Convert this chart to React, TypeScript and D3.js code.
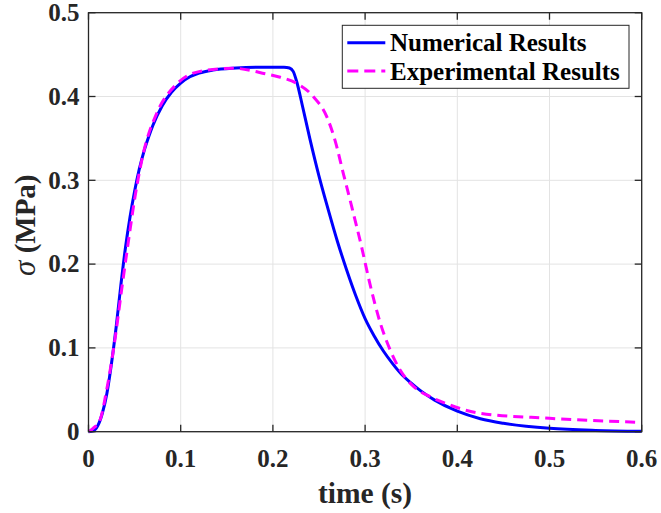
import React, { useEffect } from "react";
import * as d3 from "d3";

// values
const numTime = [0, 0.005, 0.01, 0.015, 0.02, 0.025, 0.03, 0.035, 0.04, 0.045, 0.05, 0.055, 0.06, 0.065, 0.07, 0.08, 0.09, 0.1, 0.11, 0.12, 0.135, 0.16, 0.19, 0.212, 0.218, 0.222, 0.226, 0.232, 0.24, 0.25, 0.26, 0.27, 0.28, 0.29, 0.3, 0.31, 0.32, 0.33, 0.34, 0.35, 0.36, 0.375, 0.4, 0.425, 0.45, 0.5, 0.55, 0.6];
const numStress = [0, 0.001, 0.007, 0.022, 0.046, 0.082, 0.125, 0.174, 0.219, 0.256, 0.287, 0.313, 0.334, 0.351, 0.366, 0.389, 0.405, 0.416, 0.4236, 0.428, 0.4316, 0.434, 0.435, 0.435, 0.434, 0.43, 0.417, 0.389, 0.35, 0.305, 0.265, 0.227, 0.193, 0.162, 0.135, 0.114, 0.096, 0.081, 0.068, 0.058, 0.049, 0.038, 0.0245, 0.0155, 0.01, 0.004, 0.0015, 0.0005];

const expTime = [0, 0.005, 0.0125, 0.0197, 0.0287, 0.036, 0.043, 0.0504, 0.0594, 0.074, 0.0957, 0.121, 0.157, 0.193, 0.208, 0.2258, 0.2438, 0.2584, 0.2673, 0.2764, 0.2855, 0.2963, 0.3053, 0.3161, 0.327, 0.338, 0.3525, 0.3705, 0.392, 0.4246, 0.5, 0.6];
const expStress = [0, 0.004, 0.014, 0.05, 0.11, 0.17, 0.225, 0.28, 0.332, 0.38, 0.415, 0.43, 0.4337, 0.4268, 0.423, 0.4157, 0.4, 0.376, 0.348, 0.308, 0.2685, 0.22, 0.176, 0.131, 0.098, 0.0735, 0.054, 0.0418, 0.0318, 0.022, 0.016, 0.011];

const xTicks = [0, 0.1, 0.2, 0.3, 0.4, 0.5, 0.6];
const yTicks = [0, 0.1, 0.2, 0.3, 0.4, 0.5];
const legendLabels = ["Numerical Results", "Experimental Results"];

const W = 661;
const H = 513;
const margin = { top: 12.7, right: 19.3, bottom: 81.3, left: 88.5 };
const FONT = "'Liberation Serif', 'Times New Roman', serif";
const AXIS_COLOR = "#262626";

export default function App() {
  useEffect(() => {
    document.body.style.margin = "0";
  }, []);

  const innerW = W - margin.left - margin.right;
  const innerH = H - margin.top - margin.bottom;

  const x = d3.scaleLinear().domain([0, 0.6]).range([0, innerW]);
  const y = d3.scaleLinear().domain([0, 0.5]).range([innerH, 0]);

  const line = d3
    .line<[number, number]>()
    .x(d => x(d[0]))
    .y(d => y(d[1]))
    .curve(d3.curveMonotoneX);

  const numPath = line(numTime.map((t, i) => [t, numStress[i]]));
  const expPath = line(expTime.map((t, i) => [t, expStress[i]]));
  const fmt = (v: number) => (v === 0 ? "0" : d3.format(".1f")(v));
  const tickLen = 7;

  return (
    <svg width={W} height={H} style={{ display: "block" }} fontFamily={FONT}>
      <rect width={W} height={H} fill="#fff" />
      <g transform={`translate(${margin.left},${margin.top})`}>
        {/* grid */}
        {xTicks.map(t => (
          <line key={"gx" + t} x1={x(t)} x2={x(t)} y1={0} y2={innerH} stroke="#e3e3e3" strokeWidth={1} />
        ))}
        {yTicks.map(t => (
          <line key={"gy" + t} x1={0} x2={innerW} y1={y(t)} y2={y(t)} stroke="#e3e3e3" strokeWidth={1} />
        ))}

        {/* curves */}
        <path d={numPath || ""} fill="none" stroke="#0000ff" strokeWidth={3} strokeLinejoin="round" />
        <path d={expPath || ""} fill="none" stroke="#ff00ff" strokeWidth={3} strokeDasharray="10,6" />

        {/* box + ticks */}
        <rect x={0} y={0} width={innerW} height={innerH} fill="none" stroke={AXIS_COLOR} strokeWidth={1.3} />
        {xTicks.map(t => (
          <g key={"tx" + t}>
            <line x1={x(t)} x2={x(t)} y1={innerH} y2={innerH - tickLen} stroke={AXIS_COLOR} strokeWidth={1.3} />
            <line x1={x(t)} x2={x(t)} y1={0} y2={tickLen} stroke={AXIS_COLOR} strokeWidth={1.3} />
            <text x={x(t)} y={innerH + 35} textAnchor="middle" fontSize={25} fontWeight="bold" fill={AXIS_COLOR}>
              {fmt(t)}
            </text>
          </g>
        ))}
        {yTicks.map(t => (
          <g key={"ty" + t}>
            <line x1={0} x2={tickLen} y1={y(t)} y2={y(t)} stroke={AXIS_COLOR} strokeWidth={1.3} />
            <line x1={innerW} x2={innerW - tickLen} y1={y(t)} y2={y(t)} stroke={AXIS_COLOR} strokeWidth={1.3} />
            <text x={-9} y={y(t)} dy="0.33em" textAnchor="end" fontSize={25} fontWeight="bold" fill={AXIS_COLOR}>
              {fmt(t)}
            </text>
          </g>
        ))}

        {/* axis labels */}
        <text x={innerW / 2} y={innerH + 71} textAnchor="middle" fontSize={29.5} fontWeight="bold" fill={AXIS_COLOR}>
          time (s)
        </text>
        <text
          transform={`translate(${-53.5},${innerH / 2 + 3}) rotate(-90)`}
          textAnchor="middle"
          fontSize={29}
          fontWeight="bold"
          fill={AXIS_COLOR}
        >
          <tspan fontStyle="italic" fontWeight="normal" fontSize={31}>σ</tspan> (MPa)
        </text>

        {/* legend */}
        <g transform={`translate(${342.3 - margin.left},${25.3 - margin.top})`}>
          <rect x={0} y={0} width={286.7} height={63} fill="#fff" stroke={AXIS_COLOR} strokeWidth={1} />
          {legendLabels.map((label, i) => (
            <g key={label} transform={`translate(0,${17.4 + i * 28.4})`}>
              <line
                x1={5}
                x2={43}
                y1={0}
                y2={0}
                stroke={i === 0 ? "#0000ff" : "#ff00ff"}
                strokeWidth={3}
                strokeDasharray={i === 0 ? undefined : "11,6"}
              />
              <text x={47.7} y={8.5} fontSize={25} fontWeight="bold" fill="#000">
                {label}
              </text>
            </g>
          ))}
        </g>
      </g>
    </svg>
  );
}
